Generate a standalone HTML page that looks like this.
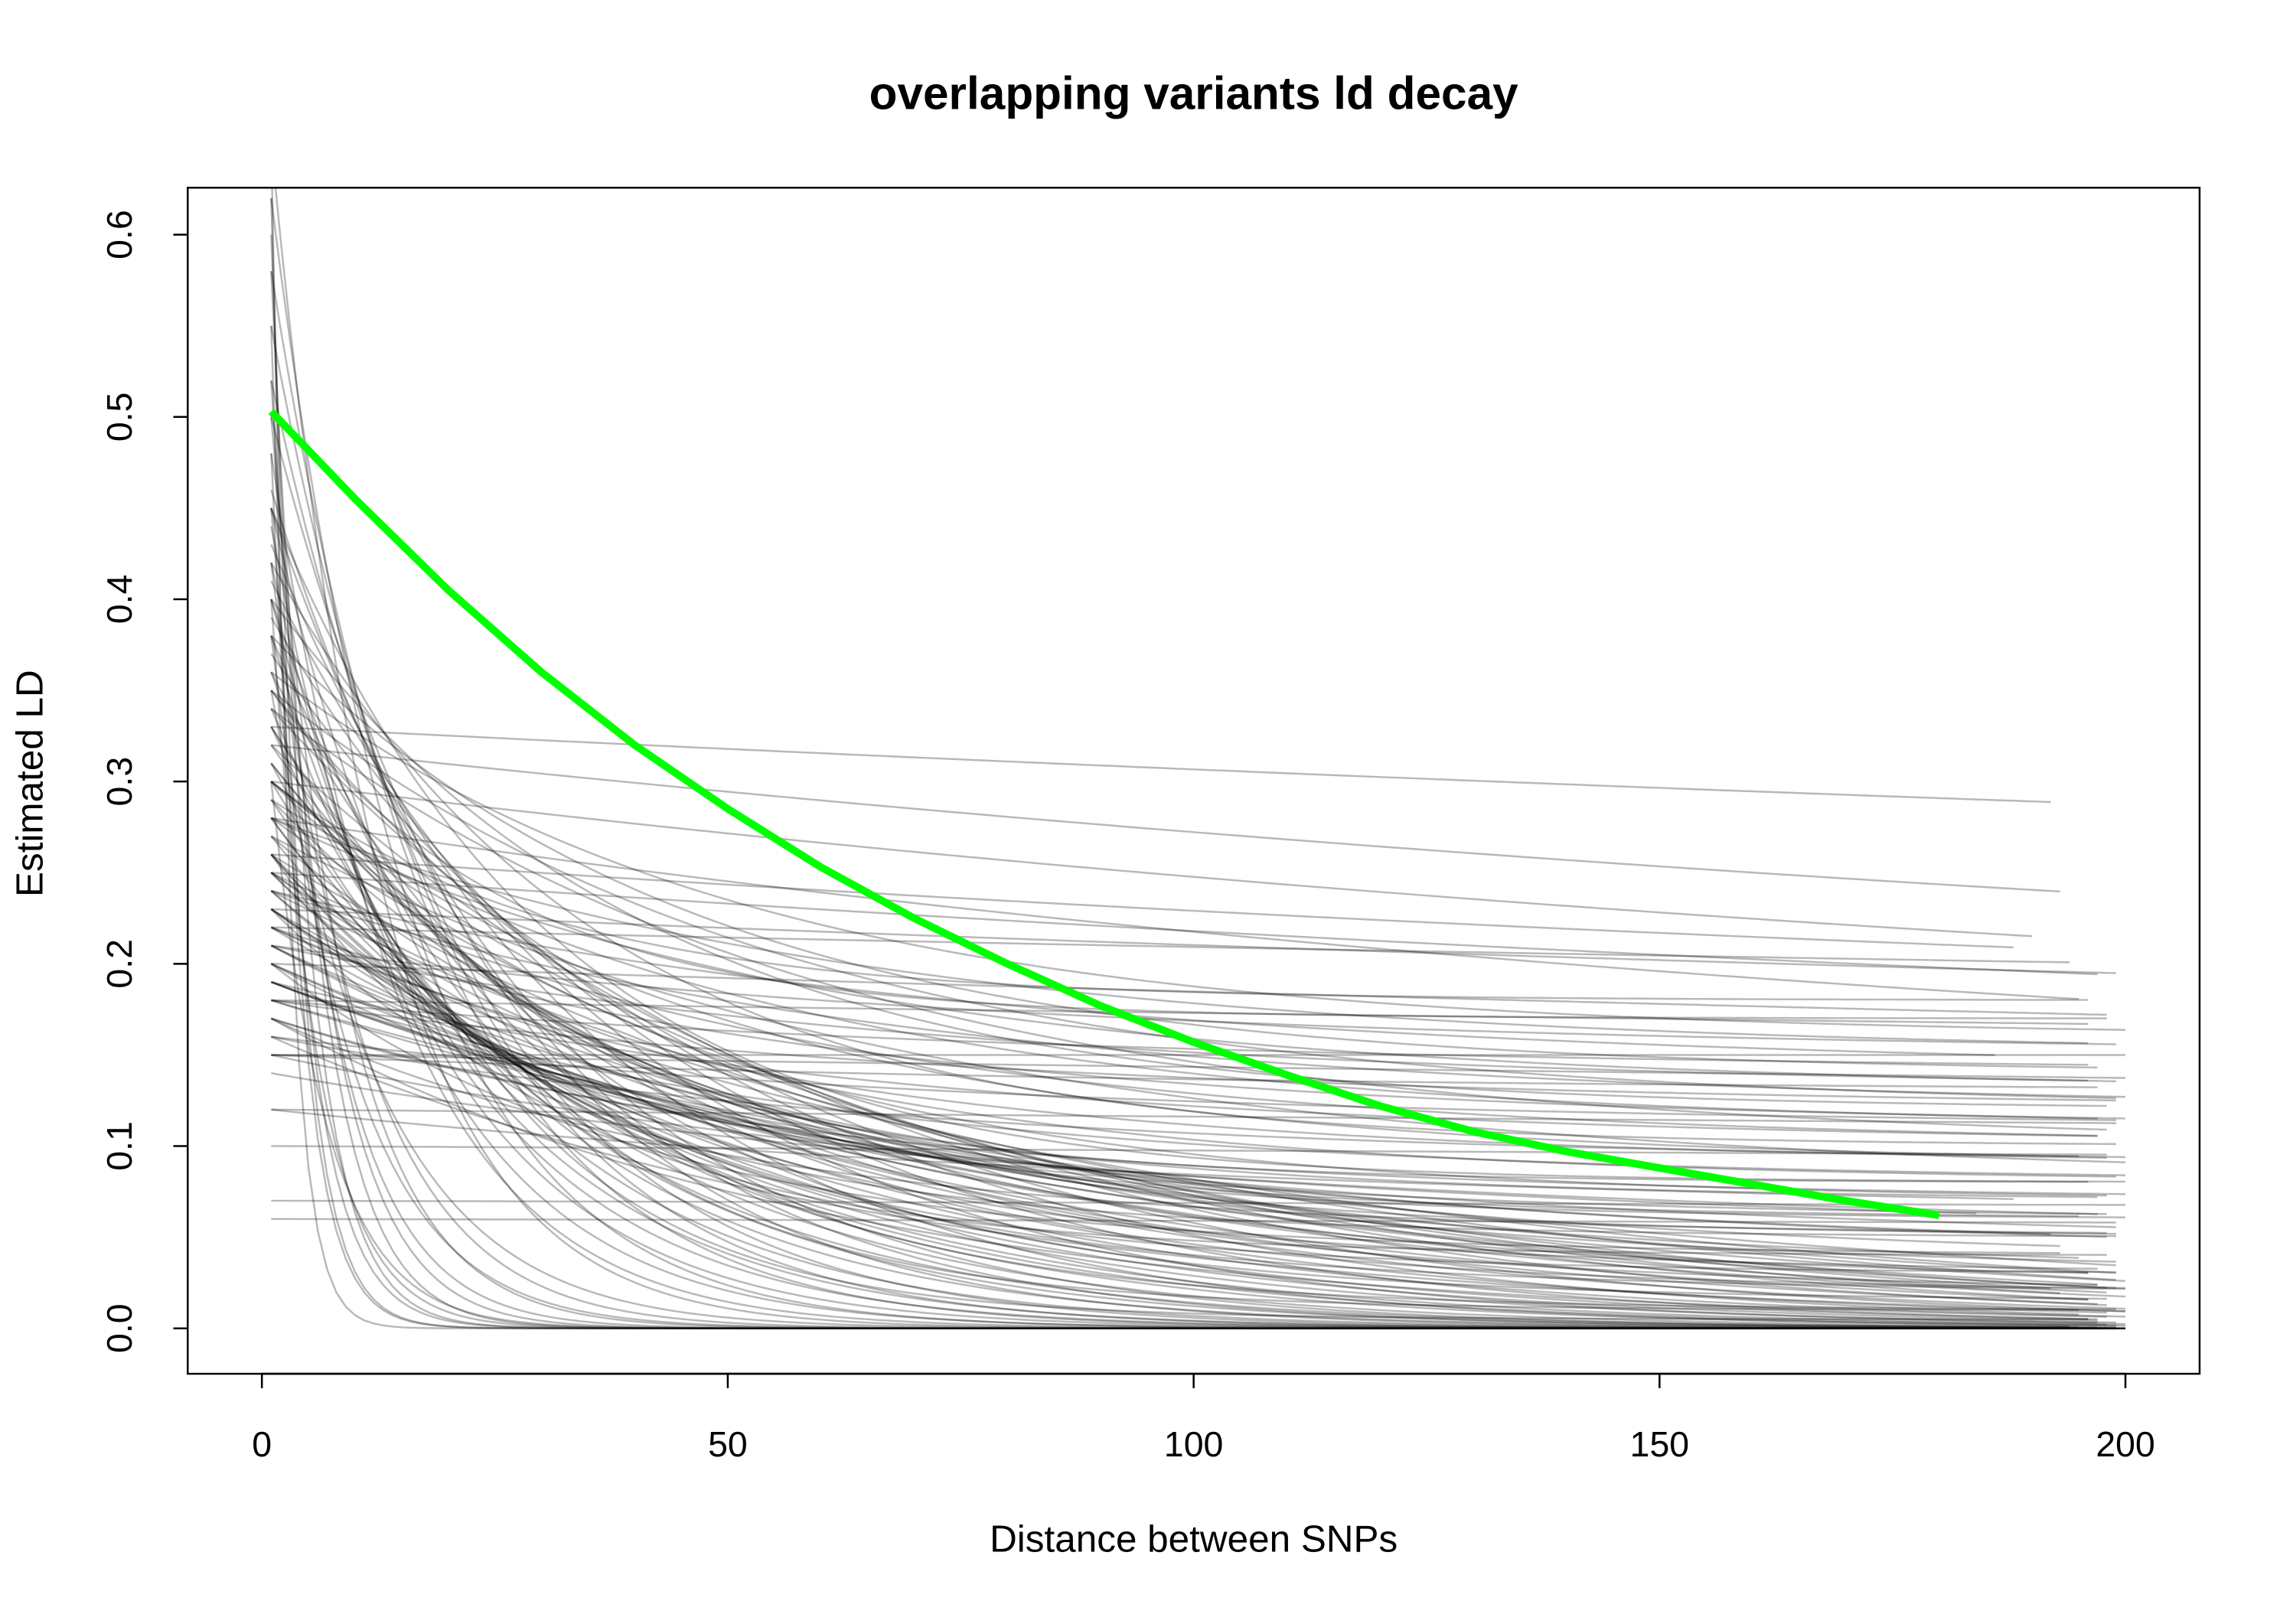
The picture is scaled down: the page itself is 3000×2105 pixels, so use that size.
<!DOCTYPE html>
<html><head><meta charset="utf-8"><style>
html,body{margin:0;padding:0;background:#fff;}
svg text{font-family:"Liberation Sans",Arial,sans-serif;}
</style></head><body>
<svg id="chart" width="3000" height="2100" viewBox="0 0 3000 2100" xmlns="http://www.w3.org/2000/svg">
<rect x="0" y="0" width="3000" height="2100" fill="#fff"/>
<defs><clipPath id="plotclip"><rect x="248" y="248" width="2658" height="1567"/></clipPath></defs>
<g transform="scale(0.989)">
<text x="1577" y="144" font-size="61" font-weight="bold" text-anchor="middle">overlapping variants ld decay</text>
<g id="curves" clip-path="url(#plotclip)"></g>
<g id="fit" clip-path="url(#plotclip)"></g>
<rect x="248" y="248" width="2658" height="1567" fill="none" stroke="#000" stroke-width="2.5"/>
<g id="xaxis"></g>
<g id="yaxis"></g>
<text x="1577" y="2050" font-size="50" text-anchor="middle">Distance between SNPs</text>
<text x="0" y="0" font-size="50" text-anchor="middle" transform="translate(56,1035) rotate(-90)">Estimated LD</text>
</g>
</svg>
<script>
const xTicks = [0, 50, 100, 150, 200];
const yTicks = [0.0, 0.1, 0.2, 0.3, 0.4, 0.5, 0.6];
const yTickLabels = ["0.0", "0.1", "0.2", "0.3", "0.4", "0.5", "0.6"];
const curveStarts = [
0.65,0.62,0.60,0.58,0.55,0.52,0.50,0.48,0.45,0.42,0.40,0.38,0.35,0.30,
0.65,0.62,0.58,0.55,0.52,0.50,0.48,0.46,0.45,0.44,
0.43,0.42,0.41,0.40,0.39,0.38,0.37,0.36,0.35,0.34,
0.34,0.33,0.32,0.31,0.30,0.30,0.29,0.28,0.28,0.27,
0.26,0.26,0.25,0.25,0.24,0.24,0.23,0.23,0.22,0.22,
0.21,0.21,0.20,0.20,0.19,0.19,0.18,0.18,0.17,0.16,
0.45,0.40,0.38,0.36,0.33,0.31,0.29,0.27,0.25,0.23,
0.21,0.19,0.17,0.15,0.14,0.12,
0.45,0.42,0.40,0.38,0.36,0.35,0.34,0.33,0.32,0.31,
0.30,0.30,0.29,0.28,0.28,0.27,0.26,0.26,0.25,0.25,
0.24,0.24,0.23,0.23,0.22,0.22,0.21,0.21,0.20,0.20,
0.19,0.19,0.18,0.18,0.17,0.17,0.16,0.16,0.15,0.15,
0.35,0.30,0.28,0.26,0.24,
0.33,0.32,0.30,0.28,0.26,0.25,0.23,0.22,0.20,0.18,0.15,0.12,0.10,0.07,0.06];
const curveHalves = [
2,3,4,5,3,6,8,4,7,10,5,9,12,6,
12,15,18,20,22,25,14,28,30,16,
35,18,40,20,45,22,50,25,55,28,
60,30,65,32,35,70,38,40,75,42,
45,80,48,50,55,90,60,65,70,100,
75,80,85,90,95,100,110,120,60,70,
20,25,30,35,40,45,50,55,60,65,
70,75,80,90,100,110,
30,35,40,45,50,55,60,30,35,40,
45,50,55,60,65,70,30,40,50,60,
70,80,35,45,55,65,75,85,40,50,
60,70,80,90,50,60,70,80,90,100,
25,30,35,40,45,
500,300,250,200,300,350,400,500,600,800,1000,1500,2000,2500,3000];
const curveFloors = [
0,0,0,0,0,0,0,0,0,0,0,0,0,0,
0,0,0,0,0,0,0,0,0,0,
0,0,0,0,0,0,0,0,0,0,
0,0,0,0,0,0,0,0,0,0,
0,0,0,0,0,0,0,0,0,0,
0,0,0,0,0,0,0,0,0,0,
0.005,0.01,0.01,0.015,0.02,0.02,0.025,0.03,0.03,0.035,
0.04,0.04,0.045,0.05,0.05,0.06,
0.08,0.10,0.12,0.14,0.16,0.12,0.10,0.08,0.06,0.05,
0.07,0.09,0.11,0.13,0.15,0.08,0.04,0.06,0.08,0.10,
0.12,0.14,0.05,0.07,0.09,0.11,0.13,0.15,0.04,0.06,
0.08,0.10,0.12,0.14,0.05,0.07,0.09,0.11,0.13,0.15,
0.17,0.18,0.03,0.02,0.03,
0.20,0.15,0.14,0.12,0.15,0.12,0.14,0.16,0.10,0.12,0.08,0.06,0.05,0.04,0.03];
const curveEnds = [
200,199,198,200,197,199,200,196,198,200,199,195,197,200,
198,199,196,200,197,198,200,194,199,192,
200,198,197,199,196,200,195,186,200,199,
198,197,196,195,194,193,199,198,192,200,
199,198,197,196,200,199,198,200,197,199,
196,200,198,199,197,200,196,199,198,200,
197,195,199,198,200,197,196,199,195,193,
198,192,199,184,197,188,
200,199,198,197,200,199,198,196,200,199,
198,200,197,199,196,200,198,195,199,197,
200,186,199,197,198,200,196,199,193,198,
200,197,199,196,198,200,195,199,197,200,
198,196,199,200,197,
192,193,190,195,188,197,199,194,198,196,200,199,198,200,199];
const fitDist = [1,10,20,30,40,50,60,70,80,90,100,110,120,130,140,150,160,170,180];
const fitLD = [0.503,0.455,0.405,0.36,0.32,0.285,0.253,0.225,0.2,0.177,0.157,0.139,0.122,0.108,0.097,0.088,0.079,0.07,0.062];

const NS = "http://www.w3.org/2000/svg";
function xs(d){ return 346 + d * (2808 - 346) / 200; }
function ys(v){ return 1755 - v * (1755 - 310) / 0.6; }

const cg = document.getElementById('curves');
for (let i = 0; i < curveStarts.length; i++) {
  const a = curveStarts[i], h = curveHalves[i], f = curveFloors[i], e = curveEnds[i];
  let pts = [];
  for (let d = 1; d <= e; d += 1) {
    const v = f + (a - f) * Math.exp(-(d - 1) / h);
    pts.push(xs(d).toFixed(1) + ',' + ys(v).toFixed(1));
  }
  const pl = document.createElementNS(NS, 'polyline');
  pl.setAttribute('points', pts.join(' '));
  pl.setAttribute('fill', 'none');
  pl.setAttribute('stroke', 'rgba(0,0,0,0.28)');
  pl.setAttribute('stroke-width', '2.5');
  
  
  cg.appendChild(pl);
}

const fg = document.getElementById('fit');
const fpts = fitDist.map((d, i) => xs(d).toFixed(1) + ',' + ys(fitLD[i]).toFixed(1));
const fl = document.createElementNS(NS, 'polyline');
fl.setAttribute('points', fpts.join(' '));
fl.setAttribute('fill', 'none');
fl.setAttribute('stroke', '#00ff00');
fl.setAttribute('stroke-width', '10');
fl.setAttribute('stroke-linejoin', 'round');


fg.appendChild(fl);

const xg = document.getElementById('xaxis');
const xl = document.createElementNS(NS, 'line');
xl.setAttribute('x1', xs(xTicks[0])); xl.setAttribute('x2', xs(xTicks[xTicks.length-1]));
xl.setAttribute('y1', 1815); xl.setAttribute('y2', 1815);
xl.setAttribute('stroke', '#000'); xl.setAttribute('stroke-width', '2.5');


xg.appendChild(xl);
xTicks.forEach(t => {
  const tk = document.createElementNS(NS, 'line');
  tk.setAttribute('x1', xs(t)); tk.setAttribute('x2', xs(t));
  tk.setAttribute('y1', 1815); tk.setAttribute('y2', 1834);
  tk.setAttribute('stroke', '#000'); tk.setAttribute('stroke-width', '2.5');
  
  
  xg.appendChild(tk);
  const tx = document.createElementNS(NS, 'text');
  tx.setAttribute('x', xs(t)); tx.setAttribute('y', 1924);
  tx.setAttribute('font-size', '47'); tx.setAttribute('text-anchor', 'middle');
  tx.textContent = String(t);
  
  
  xg.appendChild(tx);
});

const yg = document.getElementById('yaxis');
const yl = document.createElementNS(NS, 'line');
yl.setAttribute('x1', 248); yl.setAttribute('x2', 248);
yl.setAttribute('y1', ys(yTicks[0])); yl.setAttribute('y2', ys(yTicks[yTicks.length-1]));
yl.setAttribute('stroke', '#000'); yl.setAttribute('stroke-width', '2.5');


yg.appendChild(yl);
yTicks.forEach((t, i) => {
  const tk = document.createElementNS(NS, 'line');
  tk.setAttribute('x1', 229); tk.setAttribute('x2', 248);
  tk.setAttribute('y1', ys(t)); tk.setAttribute('y2', ys(t));
  tk.setAttribute('stroke', '#000'); tk.setAttribute('stroke-width', '2.5');
  
  
  yg.appendChild(tk);
  const tx = document.createElementNS(NS, 'text');
  tx.setAttribute('x', 0); tx.setAttribute('y', 0);
  tx.setAttribute('font-size', '47'); tx.setAttribute('text-anchor', 'middle');
  tx.setAttribute('transform', 'translate(174,' + ys(t) + ') rotate(-90)');
  tx.textContent = yTickLabels[i];
  
  
  yg.appendChild(tx);
});
</script>
</body></html>
